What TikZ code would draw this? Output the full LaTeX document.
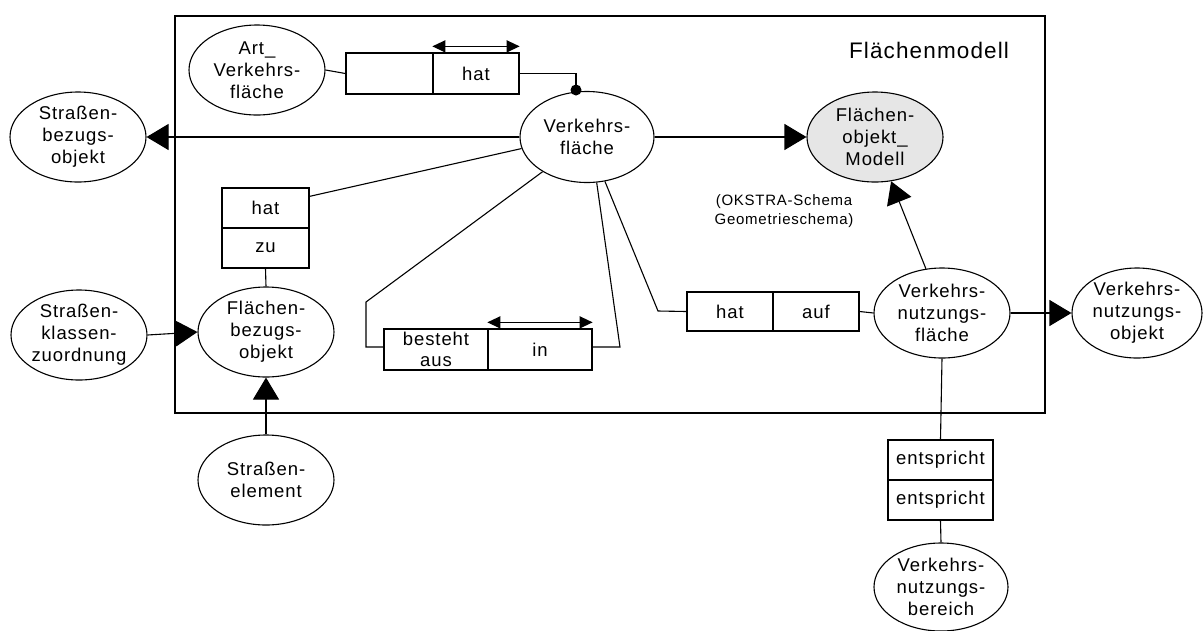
\documentclass[tikz,border=0pt]{standalone}
\usepackage{fontspec}
\setmainfont{Liberation Sans}[LetterSpace=5]
\usetikzlibrary{shapes.geometric,arrows.meta,calc}
\tikzset{
  ent/.style={ellipse,draw,line width=1.1pt,minimum width=136pt,minimum height=90pt,inner sep=0pt,align=center,
    font=\fontsize{18.5}{22}\selectfont},
  cell/.style={rectangle,draw,line width=1.3pt,inner sep=0pt,align=center,font=\fontsize{18.5}{21}\selectfont},
  conn/.style={line width=1.1pt},
  bigtri/.style={-{Triangle[length=22pt,width=26pt]}},
  dbl/.style={line width=1.2pt,{Triangle[length=13pt,width=12pt]}-{Triangle[length=13pt,width=12pt]}},
}
\begin{document}
\begin{tikzpicture}[x=1pt,y=-1pt]
\useasboundingbox (0,0) rectangle (1203,630);
% frame
\draw[line width=2.6pt] (175,16) rectangle (1045,413);
\node[font=\fontsize{22.5}{26}\selectfont] (title) at (929,50) {Flächenmodell};
\node[font=\fontsize{15}{19}\selectfont,align=center] (okstra) at (784,211) {(OKSTRA-Schema\\Geometrieschema)};

% entities
\node[ent] (art) at (257,70) {Art\_\\Verkehrs-\\fläche};
\node[ent,minimum width=134pt,minimum height=91pt] (vf) at (587,137) {Verkehrs-\\fläche};
\node[ent,fill={rgb,255:red,230;green,230;blue,230}] (fom) at (875,137) {Flächen-\\objekt\_\\Modell};
\node[ent] (sbo) at (78,137) {Straßen-\\bezugs-\\objekt};
\node[ent] (fbo) at (266,332) {Flächen-\\bezugs-\\objekt};
\node[ent] (skz) at (79,335) {Straßen-\\klassen-\\zuordnung};
\node[ent] (sel) at (266,480) {Straßen-\\element};
\node[ent] (vnf) at (942,313) {Verkehrs-\\nutzungs-\\fläche};
\node[ent,minimum width=130pt] (vno) at (1137,313) {Verkehrs-\\nutzungs-\\objekt};
\node[ent,minimum width=134pt,minimum height=88pt] (vnb) at (941,587) {Verkehrs-\\nutzungs-\\bereich};

% relation boxes
\node[cell,minimum width=87pt,minimum height=41pt] (artA) at (389.5,73.5) {};
\node[cell,minimum width=86pt,minimum height=41pt] (artB) at (476,73.5) {hat};
\node[cell,minimum width=87pt,minimum height=40pt] (hz1) at (265.5,208) {hat};
\node[cell,minimum width=87pt,minimum height=40pt] (hz2) at (265.5,248) {zu};
\node[cell,minimum width=104pt,minimum height=41pt] (ba) at (436,349.5) {besteht\\aus};
\node[cell,minimum width=104pt,minimum height=41pt] (bin) at (540,349.5) {in};
\node[cell,minimum width=86pt,minimum height=39pt] (ha1) at (730,311.5) {hat};
\node[cell,minimum width=86pt,minimum height=39pt] (ha2) at (816,311.5) {auf};
\node[cell,minimum width=105pt,minimum height=40pt] (en1) at (940.5,460) {entspricht};
\node[cell,minimum width=105pt,minimum height=40pt] (en2) at (940.5,500) {entspricht};

% double arrows
\draw[dbl] ($(artB.north west)+(0,-6)$) -- ($(artB.north east)+(0,-6)$);
\draw[dbl] ($(bin.north west)+(0,-6)$) -- ($(bin.north east)+(0,-6)$);

% connectors
\coordinate (dot) at (576,90);
\draw[conn] (art.east) -- (artA.west);
\draw[conn] (artB.east) -| (dot);
\fill (dot) circle (5.5pt);
\draw[conn,bigtri] (vf.west) -- (sbo.east);
\draw[conn,bigtri] (vf.east) -- (fom.west);
\draw[conn] ($(hz1.north east)+(0,9)$) -- (vf.190);
\draw[conn] (hz2.south) -- (fbo.north);
\coordinate (b1) at (366,302);
\coordinate (b2) at (366,347);
\draw[conn] (vf.218) -- (b1) -- (b2) -- (b2 -| ba.west);
\coordinate (c1) at (620,347);
\draw[conn] (vf.282) -- (c1) -- (c1 -| bin.east);
\coordinate (d1) at (658,311);
\draw[conn] (vf.292) -- (d1) -- (ha1.west);
\draw[conn] (ha2.east) -- (vnf.west);
\draw[conn,bigtri] (vnf.110) -- (fom.290);
\draw[conn,bigtri] (vnf.east) -- (vno.west);
\draw[conn] (vnf.south) -- (en1.north);
\draw[conn] (en2.south) -- (vnb.north);
\draw[conn,bigtri] (skz.east) -- (fbo.west);
\draw[conn,bigtri] (sel.north) -- (fbo.south);
\end{tikzpicture}
\end{document}
